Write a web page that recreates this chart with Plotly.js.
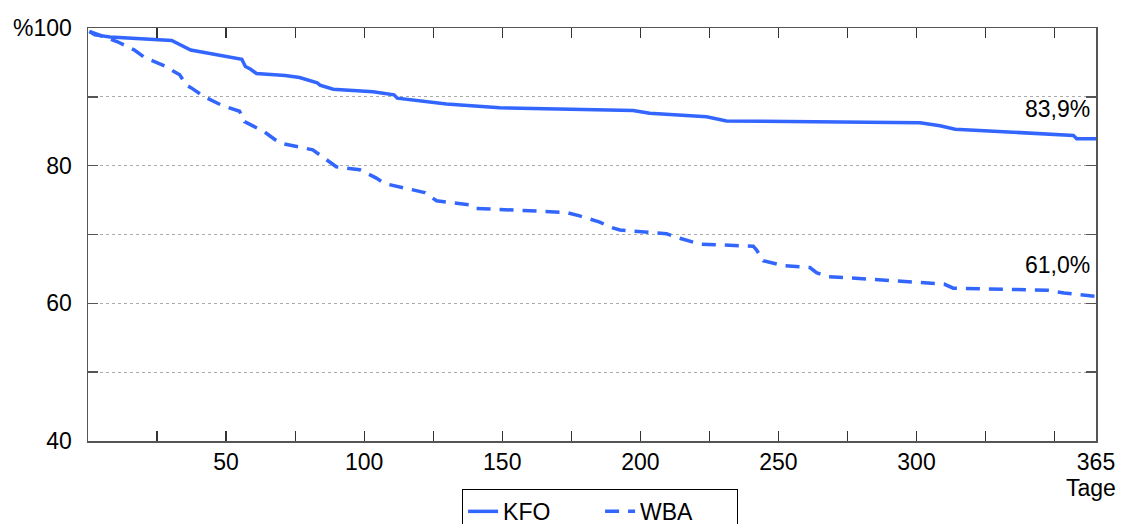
<!DOCTYPE html>
<html>
<head>
<meta charset="utf-8">
<script src="https://cdn.plot.ly/plotly-3.0.1.min.js"></script>
<style>html,body{margin:0;padding:0;background:#fff;}#chart{width:1124px;height:524px;}</style>
</head>
<body>
<div id="chart"></div>
<script>
// Days (Tage) and survival percentage
const kfoDays = [0.5, 2.5, 8, 30.3, 37.2, 55.7, 57, 58.9, 61, 71.4, 76.6, 80.3, 83, 84, 88.8, 103.2, 110.8, 112, 129.8, 149.1, 197.4, 203.4, 224, 231.2, 301.3, 308.5, 314, 356.8, 358, 365];
const kfoValues = [99.5, 99.0, 98.7, 98.2, 96.8, 95.45, 94.4, 94.0, 93.4, 93.1, 92.8, 92.4, 92.05, 91.7, 91.1, 90.75, 90.3, 89.8, 88.95, 88.4, 88.0, 87.6, 87.1, 86.5, 86.25, 85.8, 85.3, 84.4, 83.9, 83.9];

const wbaDays = [0.5, 8.4, 10.7, 16.8, 20.5, 27.7, 33.2, 35.6, 37.4, 42.2, 48.3, 54.9, 56.7, 63.9, 69.4, 81.4, 86.3, 89.9, 98.4, 104.4, 107.4, 121.9, 126.2, 138.2, 140, 153.9, 173.3, 178, 185.3, 189, 192.6, 209.5, 214.3, 221.6, 240.9, 242.1, 244.5, 251.7, 261.4, 263.8, 267.5, 310, 313.3, 347.5, 353.5, 365];
const wbaValues = [99.5, 98.25, 98.0, 96.8, 95.7, 94.5, 93.2, 91.7, 91.3, 90.0, 88.8, 87.9, 86.4, 84.9, 83.3, 82.3, 80.8, 79.85, 79.4, 78.2, 77.4, 76.1, 74.9, 74.3, 73.8, 73.5, 73.2, 72.7, 71.8, 71.1, 70.65, 70.1, 69.45, 68.6, 68.3, 67.75, 66.2, 65.5, 65.2, 64.45, 63.9, 62.8, 62.2, 61.9, 61.5, 61.0];

const seriesNames = ["KFO", "WBA"];
const xTickVals = [0, 25, 50, 75, 100, 125, 150, 175, 200, 225, 250, 275, 300, 325, 350, 365];
const xTickText = ["", "", "50", "", "100", "", "150", "", "200", "", "250", "", "300", "", "", "365"];
const xUnit = "Tage";
const yTickVals = [40, 50, 60, 70, 80, 90, 100];
const yTickText = ["40", "", "60", "", "80", "", "100"];
const yUnit = "%";

const blue = "rgb(51,102,255)";
const font = {family: 'Arial, "Liberation Sans", sans-serif', size: 23, color: "#000"};
const fmt = v => v.toFixed(1).replace(".", ",") + "%";

const traces = [
  {x: kfoDays, y: kfoValues, name: seriesNames[0], type: "scatter", mode: "lines",
   line: {color: blue, width: 3.5}},
  {x: wbaDays, y: wbaValues, name: seriesNames[1], type: "scatter", mode: "lines",
   line: {color: blue, width: 3.5, dash: "14px,9px"}}
];

const layout = {
  width: 1124, height: 524,
  paper_bgcolor: "#fff", plot_bgcolor: "#fff",
  font: font,
  margin: {l: 88, r: 28, t: 28, b: 83, autoexpand: false},
  showlegend: true,
  legend: {orientation: "h", x: 0.508, xanchor: "center", y: -0.116, yanchor: "top",
           entrywidth: 92, entrywidthmode: "pixels",
           bordercolor: "#000", borderwidth: 1, font: font, bgcolor: "#fff"},
  xaxis: {range: [0, 365], tickvals: xTickVals, ticktext: xTickText,
          ticks: "inside", ticklen: 10, tickwidth: 1.2, tickcolor: "#333",
          showline: true, linecolor: "#555", linewidth: 1.5, mirror: "ticks",
          showgrid: false, zeroline: false, ticklabelstandoff: 0, tickangle: 0},
  yaxis: {range: [40, 100], tickvals: yTickVals, ticktext: yTickText,
          ticks: "inside", ticklen: 10, tickwidth: 1.5, tickcolor: "#555",
          showline: true, linecolor: "#555", linewidth: 1.5, mirror: "ticks",
          showgrid: true, gridcolor: "#aaa", gridwidth: 1, griddash: "dot",
          zeroline: false, ticklabelstandoff: 10},
  annotations: [
    {xref: "paper", yref: "y", x: 0, y: 100, text: yUnit, showarrow: false,
     xanchor: "right", yanchor: "middle", xshift: -53, font: font},
    {xref: "x", yref: "paper", x: 365, y: 0, text: xUnit, showarrow: false,
     xanchor: "center", yanchor: "middle", xshift: -5, yshift: -47, font: font},
    {xref: "x", yref: "y", x: kfoDays[kfoDays.length - 1], y: kfoValues[kfoValues.length - 1],
     text: fmt(kfoValues[kfoValues.length - 1]), showarrow: false,
     xanchor: "right", yanchor: "middle", xshift: -4, yshift: 30, font: font},
    {xref: "x", yref: "y", x: wbaDays[wbaDays.length - 1], y: wbaValues[wbaValues.length - 1],
     text: fmt(wbaValues[wbaValues.length - 1]), showarrow: false,
     xanchor: "right", yanchor: "middle", xshift: -4, yshift: 31, font: font}
  ]
};

Plotly.newPlot("chart", traces, layout, {staticPlot: true, displayModeBar: false});
</script>
</body>
</html>
